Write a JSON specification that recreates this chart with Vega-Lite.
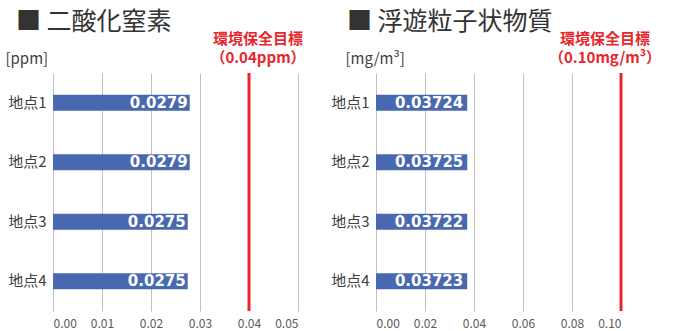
{
  "$schema": "https://vega.github.io/schema/vega-lite/v6.json",
  "padding": {"left": 5, "top": 10, "right": 5, "bottom": 2},
  "config": {
    "view": {"stroke": null},
    "font": "Noto Sans CJK JP",
    "axis": {"labelColor": "#404040", "titleColor": "#404040"}
  },
  "bounds": "flush",
  "spacing": 78,
  "datasets": {
    "no2": [
      {"site": "地点1", "value": 0.0279},
      {"site": "地点2", "value": 0.0279},
      {"site": "地点3", "value": 0.0275},
      {"site": "地点4", "value": 0.0275}
    ],
    "spm": [
      {"site": "地点1", "value": 0.03724},
      {"site": "地点2", "value": 0.03725},
      {"site": "地点3", "value": 0.03722},
      {"site": "地点4", "value": 0.03723}
    ],
    "std1": [{"limit": 0.04}],
    "std2": [{"limit": 0.1}]
  },
  "hconcat": [
    {
      "width": 245,
      "height": 238,
      "title": {"text": "■ 二酸化窒素", "anchor": "start", "frame": "group", "dx": -37, "fontSize": 25, "fontWeight": "normal", "color": "#333333", "offset": -3},
      "layer": [
        {
          "data": {"name": "no2"},
          "mark": {"type": "bar", "size": 16, "color": "#4868B0"},
          "encoding": {
            "y": {"field": "site", "type": "nominal", "sort": null, "scale": {"paddingInner": 0, "paddingOuter": 0},
              "axis": {"title": "[ppm]", "titleAngle": 0, "titleAlign": "left", "titleBaseline": "middle", "titleX": -48, "titleY": -15, "titleFontSize": 15, "titleFontWeight": "normal", "labelFontSize": 15, "labelPadding": 7, "ticks": false, "domain": false, "grid": false}},
            "x": {"field": "value", "type": "quantitative", "scale": {"domain": [0, 0.05], "nice": false},
              "axis": {"title": null, "values": [0, 0.01, 0.02, 0.03, 0.04, 0.05], "format": ".2f", "labelFontSize": 12, "labelColor": "#595959", "labelPadding": 7, "ticks": false, "domain": false, "grid": true, "gridColor": "#bfbfbf"}}
          }
        },
        {
          "data": {"name": "no2"},
          "mark": {"type": "text", "align": "right", "baseline": "middle", "dx": -2, "color": "white", "fontWeight": "bold", "fontSize": 15, "font": "DejaVu Sans"},
          "encoding": {
            "y": {"field": "site", "type": "nominal", "sort": null},
            "x": {"field": "value", "type": "quantitative"},
            "text": {"field": "value", "type": "quantitative", "format": ".4f"}
          }
        },
        {
          "data": {"name": "std1"},
          "mark": {"type": "rule", "color": "#E8262B", "strokeWidth": 3},
          "encoding": {"x": {"field": "limit", "type": "quantitative"}}
        },
        {
          "data": {"name": "std1"},
          "mark": {"type": "text", "text": ["環境保全目標", "（0.04ppm）"], "color": "#E8262B", "fontWeight": "bold", "fontSize": 15, "lineHeight": 19, "align": "center", "baseline": "middle", "dx": 9},
          "encoding": {"x": {"field": "limit", "type": "quantitative"}, "y": {"value": -34}}
        }
      ]
    },
    {
      "width": 245,
      "height": 238,
      "title": {"text": "■ 浮遊粒子状物質", "anchor": "start", "frame": "group", "dx": -29, "fontSize": 25, "fontWeight": "normal", "color": "#333333", "offset": -3},
      "layer": [
        {
          "data": {"name": "spm"},
          "mark": {"type": "bar", "size": 16, "color": "#4868B0"},
          "encoding": {
            "y": {"field": "site", "type": "nominal", "sort": null, "scale": {"paddingInner": 0, "paddingOuter": 0},
              "axis": {"title": "[mg/m³]", "titleAngle": 0, "titleAlign": "left", "titleBaseline": "middle", "titleX": -31, "titleY": -15, "titleFontSize": 15, "titleFontWeight": "normal", "labelFontSize": 15, "labelPadding": 7, "ticks": false, "domain": false, "grid": false}},
            "x": {"field": "value", "type": "quantitative", "scale": {"domain": [0, 0.1], "nice": false},
              "axis": {"title": null, "values": [0, 0.02, 0.04, 0.06, 0.08, 0.1], "format": ".2f", "labelFontSize": 12, "labelColor": "#595959", "labelPadding": 7, "ticks": false, "domain": false, "grid": true, "gridColor": "#bfbfbf"}}
          }
        },
        {
          "data": {"name": "spm"},
          "mark": {"type": "text", "align": "right", "baseline": "middle", "dx": -4, "color": "white", "fontWeight": "bold", "fontSize": 15, "font": "DejaVu Sans"},
          "encoding": {
            "y": {"field": "site", "type": "nominal", "sort": null},
            "x": {"field": "value", "type": "quantitative"},
            "text": {"field": "value", "type": "quantitative", "format": ".5f"}
          }
        },
        {
          "data": {"name": "std2"},
          "mark": {"type": "rule", "color": "#E8262B", "strokeWidth": 3},
          "encoding": {"x": {"field": "limit", "type": "quantitative"}}
        },
        {
          "data": {"name": "std2"},
          "mark": {"type": "text", "text": ["環境保全目標", "（0.10mg/m³）"], "color": "#E8262B", "fontWeight": "bold", "fontSize": 15, "lineHeight": 19, "align": "center", "baseline": "middle", "dx": -16},
          "encoding": {"x": {"field": "limit", "type": "quantitative"}, "y": {"value": -34}}
        }
      ]
    }
  ]
}
